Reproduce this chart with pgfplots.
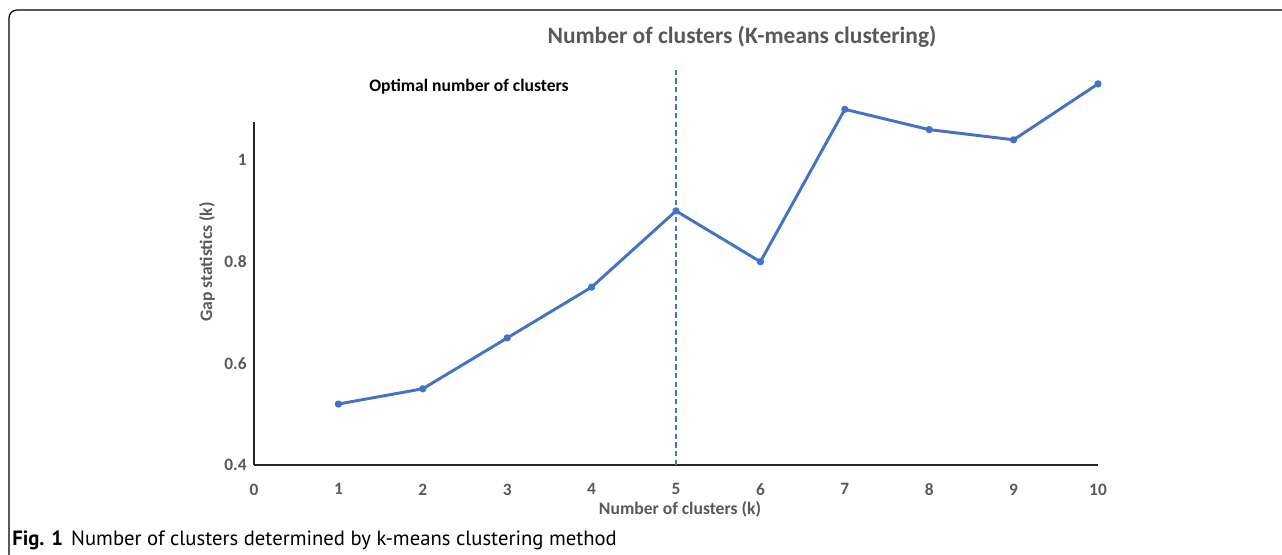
\documentclass[border=0pt]{standalone}
\usepackage{pgfplots}
\pgfplotsset{compat=1.18}
\usepackage{fontspec}
\setmainfont{Carlito}
\newfontfamily\capfont{PT Sans}
\definecolor{xlblue}{HTML}{4472C4}
\definecolor{xlgray}{HTML}{595959}
\begin{document}
\begin{tikzpicture}
\useasboundingbox (0,0) rectangle (961.5pt,-416.25pt);
% frame
\draw[line width=0.9pt, rounded corners=6pt] (6.75pt,-417pt) -- (6.75pt,-7.5pt) -- (962pt,-7.5pt);
\begin{axis}[
  at={(190.5pt,-348.75pt)}, anchor=south west,
  scale only axis, width=633pt, height=257.25pt,
  xmin=0, xmax=10, ymin=0.4, ymax=1.075,
  axis x line=bottom, axis y line=left,
  axis line style={-, line width=0.8pt, black!85},
  xtick={0,1,...,10}, ytick={0.4,0.6,0.8,1},
  yticklabels={0.4,0.6,0.8,1},
  major tick length=0pt,
  tick label style={font=\fontsize{13}{15}\selectfont\bfseries, text=xlgray},
  /pgf/number format/assume math mode=true,
  xticklabel style={yshift=-10.5pt},
  yticklabel style={xshift=-2pt},
  clip=false,
]
\addplot[xlblue, line width=2.2pt, mark=*, mark size=1.6pt, line join=round] coordinates {
(1,0.52) (2,0.55) (3,0.65) (4,0.75) (5,0.90) (6,0.80) (7,1.10) (8,1.06) (9,1.04) (10,1.15)
};
\addplot[xlblue, line width=1.1pt, dash pattern=on 4pt off 2.5pt] coordinates {(5,0.4) (5,1.177)};
\end{axis}
\node[font=\fontsize{17.6}{20}\selectfont\bfseries, text=xlgray] at (556.5pt,-27.75pt) {Number of clusters (K-means clustering)};
\node[font=\fontsize{13.2}{15}\selectfont\bfseries] at (351.75pt,-65.25pt) {Optimal number of clusters};
\node[font=\fontsize{13.2}{15}\selectfont\bfseries, text=xlgray, rotate=90] at (155.25pt,-196.5pt) {Gap statistics (k)};
\node[font=\fontsize{13.2}{15}\selectfont\bfseries, text=xlgray] at (510pt,-381.75pt) {Number of clusters (k)};
\node[font=\capfont\fontsize{15.5}{18}\selectfont, anchor=base west, inner sep=0pt] at (9pt,-409pt) {\textbf{Fig. 1}\hspace{6pt}Number of clusters determined by k-means clustering method};
\end{tikzpicture}
\end{document}
